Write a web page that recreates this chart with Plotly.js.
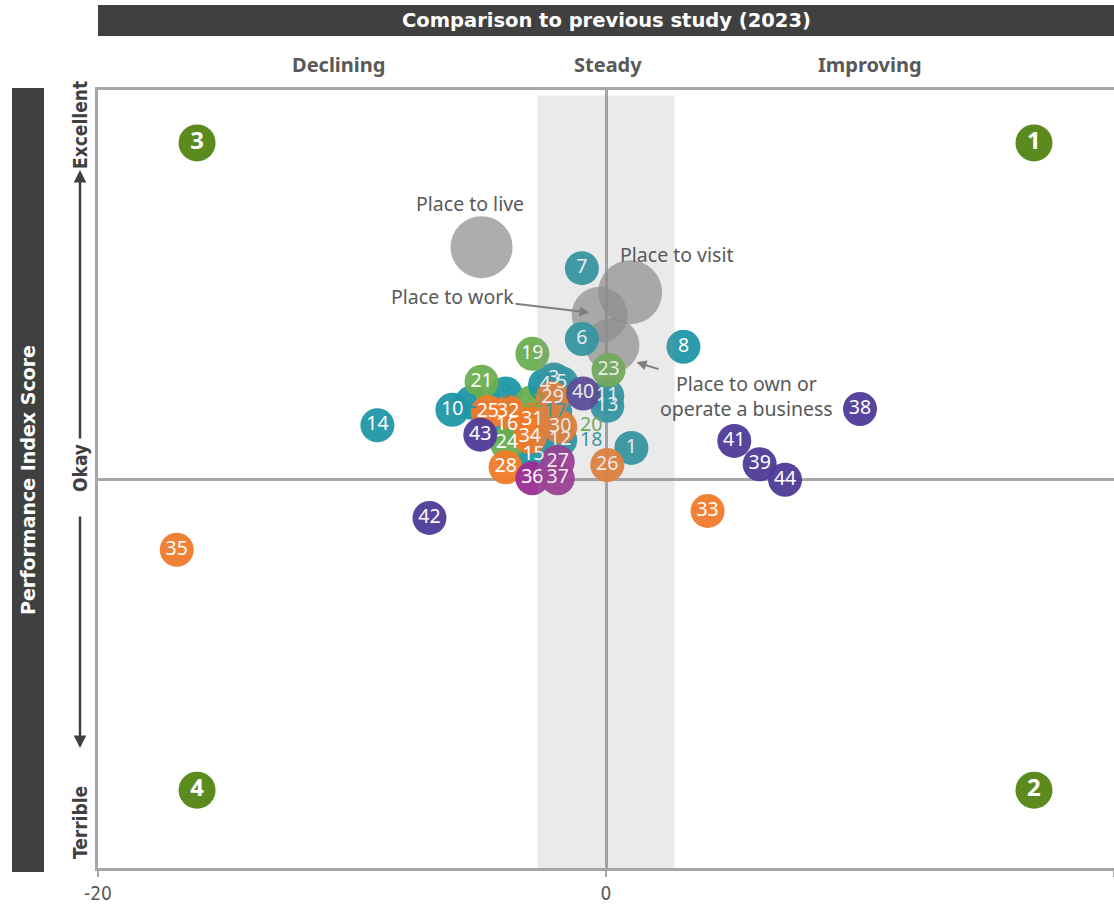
<!DOCTYPE html>
<html>
<head>
<meta charset="utf-8">
<script src="https://cdn.plot.ly/plotly-3.0.1.min.js"></script>
<style>html,body{margin:0;padding:0;background:#fff;}#chart{width:1114px;height:909px;}</style>
</head>
<body>
<div id="chart"></div>
<script>
// ---- Data ----
const ids = ['1','2','3','4','5','6','7','8','9','10','11','12','13','14','15','16','17','18','19','20','21','22',
  '23','24','25','26','27','28','29','30','31','32','33','34','35','36','37','38','39','40','41','42','43','44'];
const changeX = [1.0,-5.3,-2.05,-2.4,-1.75,-0.95,-0.95,3.05,-3.95,-6.05,0.05,-1.8,0.05,-9.0,-2.85,-3.9,-2.0,-1.9,-2.9,-1.9,-4.9,-2.9,
  0.1,-3.9,-4.65,0.05,-1.9,-3.95,-2.1,-1.8,-2.9,-3.85,4.0,-3.0,-16.9,-2.9,-1.9,10.0,6.05,-0.9,5.05,-6.95,-4.95,7.05];
const scoreY = [4.0,9.8,12.8,12.1,12.3,18.0,27.1,17.0,11.0,8.9,10.7,5.0,9.4,6.9,3.1,6.9,8.6,4.9,16.1,6.8,12.5,9.9,
  14.0,4.6,8.6,1.8,2.2,1.5,10.4,6.7,7.6,8.6,-4.1,5.4,-9.1,0.1,0.1,9.0,1.9,11.0,4.9,-5.0,5.7,-0.1];
const groups = ['T','T','T','T','T','T','T','T','T','T','T','T','T','T','T','T','T','T','G','G','G','G',
  'G','G','O','O','M','O','O','O','O','O','O','O','O','M','M','P','P','P','P','P','P','P'];
const hiddenIds = ['2','9','17','18','20','22'];
const offsetRightIds = ['18','20'];

const bigNames = ['Place to live','Place to visit','Place to work','Place to own or operate a business'];
const bigX = [-4.9,0.95,-0.25,0.25];
const bigY = [29.8,24.0,21.1,17.2];
const bigSize = [62,64,56,54];

const quadLabels = ['1','2','3','4'];
const quadX = [16.85,16.85,-16.1,-16.1];
const quadY = [43.2,-40.0,43.2,-40.0];

const headerText = 'Comparison to previous study (2023)';
const trendLabels = ['Declining','Steady','Improving'];
const yTitle = 'Performance Index Score';
const scoreLabels = ['Excellent','Okay','Terrible'];
const xTicks = [-20,0,20];
const steadyBand = [-2.7,2.7];

// ---- Styles ----
const groupColor = {T:'#1f97a7', G:'#6aae4f', O:'#f07a2a', M:'#9b2d95', P:'#4e3b98'};
const FONT = 'Noto Sans, Open Sans, sans-serif';
const WIDE = 'DejaVu Sans, Noto Sans, sans-serif';
const NARROW = 'Liberation Sans Narrow, DejaVu Sans Condensed, Arial Narrow, sans-serif';
const SMALL = 34;

// draw hidden-label bubbles first so that others cover them
const order = [];
ids.forEach((id,i)=>{ if(hiddenIds.includes(id)) order.push(i); });
ids.forEach((id,i)=>{ if(!hiddenIds.includes(id)) order.push(i); });

const traces = [];
traces.push({
  type:'scatter', mode:'markers', x:bigX, y:bigY, text:bigNames, hoverinfo:'text',
  marker:{size:bigSize, sizemode:'diameter', color:'#8a8a8a', line:{width:0}}
});
traces.push({
  type:'scatter', mode:'markers',
  x:order.map(i=>changeX[i]), y:order.map(i=>scoreY[i]), text:order.map(i=>ids[i]), hoverinfo:'text',
  marker:{size:SMALL, color:order.map(i=>groupColor[groups[i]]), opacity:0.95, line:{width:0}}
});
traces.push({
  type:'scatter', mode:'markers+text', x:changeX, y:scoreY, text:ids, hoverinfo:'skip',
  textposition: ids.map(id=>offsetRightIds.includes(id)?'middle right':'middle center'),
  textfont:{family:FONT, size:19.5, color: ids.map((id,i)=>hiddenIds.includes(id)?groupColor[groups[i]]:'#ffffff')},
  marker:{size:SMALL, opacity:0}
});
traces.push({
  type:'scatter', mode:'markers+text', x:quadX, y:quadY, text:quadLabels, hoverinfo:'skip',
  textposition:'middle center',
  textfont:{family:FONT, size:24, color:'#ffffff', weight:'bold'},
  marker:{size:37, color:'#5b8a1f', line:{width:0}}
});

const pxX = px => (px-98)/1016;
const pxY = py => (868-py)/778;
const C = {xanchor:'center', yanchor:'middle'};

const annotations = [];
annotations.push(Object.assign({xref:'paper', yref:'paper', x:0.5, y:pxY(20), text:'<b>'+headerText+'</b>', showarrow:false,
  font:{family:WIDE, size:19.5, color:'#ffffff'}}, C));
const trendPx = [338,608,870];
trendLabels.forEach((t,i)=>annotations.push(Object.assign({xref:'paper', yref:'paper', x:pxX(trendPx[i]), y:pxY(65), text:'<b>'+t+'</b>',
  showarrow:false, font:{family:FONT, size:20, color:'#595959'}}, C)));
annotations.push(Object.assign({xref:'paper', yref:'paper', x:pxX(28), y:pxY(480), text:'<b>'+yTitle+'</b>', textangle:-90, showarrow:false,
  font:{family:WIDE, size:19, color:'#ffffff'}}, C));
const scorePy = [125,468,823];
scoreLabels.forEach((t,i)=>annotations.push(Object.assign({xref:'paper', yref:'paper', x:pxX(80), y:pxY(scorePy[i]), text:'<b>'+t+'</b>',
  textangle:-90, showarrow:false, font:{family:NARROW, size:19, color:'#404040'}}, C)));
// scale arrows
annotations.push({xref:'paper', yref:'paper', x:pxX(80), y:pxY(170), ax:0, ay:270, text:'', showarrow:true,
  arrowhead:2, arrowsize:1, arrowwidth:2.5, arrowcolor:'#404040'});
annotations.push({xref:'paper', yref:'paper', x:pxX(80), y:pxY(748), ax:0, ay:-233, text:'', showarrow:true,
  arrowhead:2, arrowsize:1, arrowwidth:2.5, arrowcolor:'#404040'});
// bubble name labels
const nameFont = {family:FONT, size:19.5, color:'#595959'};
annotations.push(Object.assign({x:bigX[0], y:bigY[0], xshift:-12, yshift:44, text:bigNames[0], showarrow:false, font:nameFont}, C));
annotations.push(Object.assign({x:bigX[1], y:bigY[1], xshift:46, yshift:38, text:bigNames[1], showarrow:false, font:nameFont}, C));
annotations.push({x:-0.65, y:21.4, ax:-137, ay:-16, text:bigNames[2], showarrow:true, arrowhead:2, arrowsize:1,
  arrowwidth:2, arrowcolor:'#7f7f7f', font:nameFont});
annotations.push({x:1.2, y:15.0, ax:110, ay:34, text:'Place to own or<br>operate a business', showarrow:true, arrowhead:2,
  arrowsize:1, arrowwidth:2, arrowcolor:'#7f7f7f', font:nameFont, align:'center'});

const layout = {
  width:1114, height:909,
  margin:{l:98, r:0, t:90, b:41},
  paper_bgcolor:'#ffffff', plot_bgcolor:'#ffffff',
  showlegend:false,
  font:{family:FONT},
  xaxis:{range:[-20,20], tickvals:xTicks, ticktext:xTicks.map(String), showgrid:false,
    zeroline:true, zerolinecolor:'#a6a6a6', zerolinewidth:3,
    showline:true, mirror:true, linecolor:'#a6a6a6', linewidth:3,
    ticks:'outside', ticklen:6, tickwidth:2, tickcolor:'#a6a6a6',
    tickfont:{family:NARROW, size:19, color:'#595959'}, fixedrange:true},
  yaxis:{range:[-50,50], showticklabels:false, showgrid:false,
    zeroline:true, zerolinecolor:'#a6a6a6', zerolinewidth:3,
    showline:true, mirror:true, linecolor:'#a6a6a6', linewidth:3, ticks:'', fixedrange:true},
  shapes:[
    {type:'rect', xref:'x', yref:'y', x0:steadyBand[0], x1:steadyBand[1], y0:-50, y1:49.3,
     fillcolor:'rgba(150,150,150,0.2)', line:{width:0}, layer:'above'},
    {type:'rect', xref:'paper', yref:'paper', x0:0, x1:1, y0:pxY(36), y1:pxY(5), fillcolor:'#404040', line:{width:0}, layer:'below'},
    {type:'rect', xref:'paper', yref:'paper', x0:pxX(12), x1:pxX(44), y0:pxY(872), y1:pxY(88), fillcolor:'#404040', line:{width:0}, layer:'below'}
  ],
  annotations:annotations
};

Plotly.newPlot('chart', traces, layout, {displayModeBar:false, staticPlot:true});
</script>
</body>
</html>
